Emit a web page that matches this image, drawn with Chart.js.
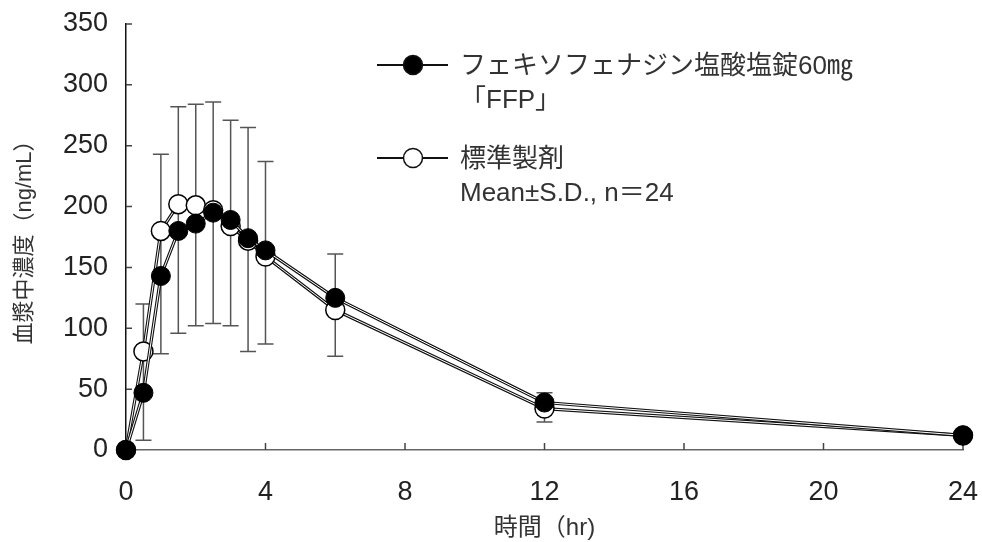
<!DOCTYPE html>
<html>
<head>
<meta charset="utf-8">
<script src="https://cdn.jsdelivr.net/npm/chart.js@4.4.1/dist/chart.umd.min.js"></script>
<style>
body { margin: 0; background: #fff; }
</style>
</head>
<body>
<canvas id="myChart" width="982" height="542"></canvas>
<script>
// data
const times = [0, 0.5, 1, 1.5, 2, 2.5, 3, 3.5, 4, 6, 12, 24];
const ffpValues = [0, 47, 143, 180, 186, 195, 189, 174, 164, 125, 39, 12];
const stdValues = [0, 81, 180, 202, 201, 197, 184, 172, 159, 115, 34, 12];
// ends of the S.D. bars
const sdTop = [null, 120, 243, 282, 284, 286, 271, 265, 237, 161, 47, null];
const sdBottom = [null, 8, 79, 96, 102, 104, 102, 81, 87, 77, 23, null];
const xTickLabels = [0, 4, 8, 12, 16, 20, 24];
const yTickLabels = [0, 50, 100, 150, 200, 250, 300, 350];

const legendLines = [
    ["フェキソフェナジン塩酸塩錠60㎎", "「FFP」"],
    ["標準製剤", "Mean±S.D., n＝24"]
];

const fontFamily = '"Liberation Sans", "Noto Sans CJK JP", sans-serif';

function toPoints(vals) {
    return times.map(function (t, i) { return { x: t, y: vals[i] }; });
}

// inward tick marks
const innerTicks = {
    id: "innerTicks",
    beforeDatasetsDraw: function (chart) {
        const ctx = chart.ctx;
        const x = chart.scales.x, y = chart.scales.y;
        ctx.save();
        ctx.strokeStyle = "#444";
        ctx.lineWidth = 1.5;
        ctx.beginPath();
        yTickLabels.forEach(function (v) {
            const py = y.getPixelForValue(v);
            ctx.moveTo(x.left, py);
            ctx.lineTo(x.left + 6, py);
        });
        xTickLabels.forEach(function (v) {
            const px = x.getPixelForValue(v);
            ctx.moveTo(px, y.bottom);
            ctx.lineTo(px, y.bottom - 7);
        });
        ctx.stroke();
        ctx.restore();
    }
};

// S.D. bars
const errorBars = {
    id: "errorBars",
    beforeDatasetsDraw: function (chart) {
        const ctx = chart.ctx;
        const x = chart.scales.x, y = chart.scales.y;
        ctx.save();
        ctx.strokeStyle = "#555";
        ctx.lineWidth = 1.5;
        times.forEach(function (t, i) {
            if (sdTop[i] == null) return;
            const px = x.getPixelForValue(t);
            const top = y.getPixelForValue(sdTop[i]);
            const bot = y.getPixelForValue(sdBottom[i]);
            ctx.beginPath();
            ctx.moveTo(px, top); ctx.lineTo(px, bot);
            ctx.moveTo(px - 8, top); ctx.lineTo(px + 8, top);
            ctx.moveTo(px - 8, bot); ctx.lineTo(px + 8, bot);
            ctx.stroke();
        });
        ctx.restore();
    }
};

// legend in the upper right
const sideLegend = {
    id: "sideLegend",
    afterDraw: function (chart) {
        const ctx = chart.ctx;
        const rows = [65, 158];
        ctx.save();
        rows.forEach(function (ry, k) {
            ctx.strokeStyle = "#111";
            ctx.lineWidth = 2;
            ctx.beginPath();
            ctx.moveTo(377, ry);
            ctx.lineTo(448, ry);
            ctx.stroke();
            ctx.beginPath();
            ctx.arc(413, ry, 9.5, 0, Math.PI * 2);
            ctx.fillStyle = k == 0 ? "#000" : "#fff";
            ctx.fill();
            ctx.lineWidth = 1.5;
            ctx.stroke();

            ctx.fillStyle = "#333";
            ctx.textBaseline = "middle";
            ctx.font = "26px " + fontFamily;
            ctx.fillText(legendLines[k][0], 460, ry + 2);
            ctx.fillText(legendLines[k][1], 460, ry + 36);
        });
        ctx.restore();
    }
};

const ctx = document.getElementById("myChart");

new Chart(ctx, {
    type: "line",
    data: {
        datasets: [
            {
                label: "フェキソフェナジン塩酸塩錠60㎎「FFP」",
                data: toPoints(ffpValues),
                borderColor: "#fff",
                borderWidth: 1,
                pointRadius: 9.5,
                pointBackgroundColor: "#000",
                pointBorderColor: "#000",
                pointBorderWidth: 1,
                order: 1,
                clip: false
            },
            {
                label: "ffp-outline",
                data: toPoints(ffpValues),
                borderColor: "#111",
                borderWidth: 3.2,
                pointRadius: 0,
                order: 2,
                clip: false
            },
            {
                label: "標準製剤",
                data: toPoints(stdValues),
                borderColor: "#fff",
                borderWidth: 1,
                pointRadius: 9.5,
                pointBackgroundColor: "#fff",
                pointBorderColor: "#000",
                pointBorderWidth: 1.5,
                order: 3,
                clip: false
            },
            {
                label: "std-outline",
                data: toPoints(stdValues),
                borderColor: "#111",
                borderWidth: 3.2,
                pointRadius: 0,
                order: 4,
                clip: false
            }
        ]
    },
    options: {
        responsive: false,
        animation: false,
        layout: { padding: { top: 24, right: 19, left: 0, bottom: 0 } },
        plugins: {
            legend: { display: false },
            tooltip: { enabled: false }
        },
        scales: {
            x: {
                type: "linear",
                min: 0,
                max: 24,
                afterBuildTicks: function (scale) {
                    scale.ticks = xTickLabels.map(function (v) { return { value: v }; });
                },
                afterFit: function (scale) { scale.height = 92; },
                // invisible outer ticks just push the labels down
                grid: { drawOnChartArea: false, drawTicks: true, tickLength: 24, tickColor: "rgba(0,0,0,0)" },
                border: { color: "#666", width: 1.5 },
                ticks: {
                    padding: 2,
                    color: "#222",
                    font: { family: fontFamily, size: 27 }
                },
                title: {
                    display: true,
                    text: "時間（hr)",
                    color: "#333",
                    font: { family: fontFamily, size: 24, lineHeight: 1.1 },
                    padding: { top: 0, bottom: 0 }
                }
            },
            y: {
                min: 0,
                max: 350,
                afterBuildTicks: function (scale) {
                    scale.ticks = yTickLabels.map(function (v) { return { value: v }; });
                },
                afterFit: function (scale) { scale.width = 126; },
                grid: { drawOnChartArea: false, drawTicks: true, tickLength: 16, tickColor: "rgba(0,0,0,0)" },
                border: { color: "#111", width: 1.5 },
                ticks: {
                    padding: 2,
                    color: "#222",
                    font: { family: fontFamily, size: 27 }
                },
                title: {
                    display: true,
                    text: "血漿中濃度（ng/mL）",
                    color: "#333",
                    font: { family: fontFamily, size: 22, lineHeight: 1.2 },
                    padding: { top: 12, bottom: 0 }
                }
            }
        }
    },
    plugins: [innerTicks, errorBars, sideLegend]
});
</script>
</body>
</html>
